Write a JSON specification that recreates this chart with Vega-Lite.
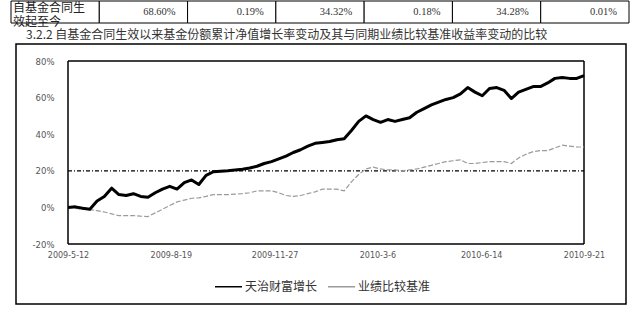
{
  "$schema": "https://vega.github.io/schema/vega-lite/v6.json",
  "padding": {"left": 10, "top": 0, "right": 0, "bottom": 0},
  "background": "white",
  "spacing": 0,
  "datasets": {
    "table": [
      {"col": "c0", "label": "自基金合同生\n效起至今"},
      {"col": "c1", "label": "68.60%"},
      {"col": "c2", "label": "0.19%"},
      {"col": "c3", "label": "34.32%"},
      {"col": "c4", "label": "0.18%"},
      {"col": "c5", "label": "34.28%"},
      {"col": "c6", "label": "0.01%"}
    ],
    "series": [
      {"date": "2009-05-12", "天治财富增长": 0, "业绩比较基准": 0},
      {"date": "2009-05-19", "天治财富增长": 0.3, "业绩比较基准": -0.5},
      {"date": "2009-05-26", "天治财富增长": -0.5, "业绩比较基准": -1},
      {"date": "2009-06-02", "天治财富增长": -1, "业绩比较基准": -1.2},
      {"date": "2009-06-09", "天治财富增长": 3.5, "业绩比较基准": -1.8},
      {"date": "2009-06-16", "天治财富增长": 6, "业绩比较基准": -2.5},
      {"date": "2009-06-23", "天治财富增长": 10.5, "业绩比较基准": -3.5},
      {"date": "2009-06-30", "天治财富增长": 7, "业绩比较基准": -4.5},
      {"date": "2009-07-07", "天治财富增长": 6.5, "业绩比较基准": -4.5},
      {"date": "2009-07-14", "天治财富增长": 7.5, "业绩比较基准": -4.5},
      {"date": "2009-07-21", "天治财富增长": 6, "业绩比较基准": -4.8},
      {"date": "2009-07-28", "天治财富增长": 5.5, "业绩比较基准": -5},
      {"date": "2009-08-04", "天治财富增长": 8, "业绩比较基准": -3},
      {"date": "2009-08-11", "天治财富增长": 10, "业绩比较基准": -1},
      {"date": "2009-08-18", "天治财富增长": 11.5, "业绩比较基准": 1},
      {"date": "2009-08-25", "天治财富增长": 10, "业绩比较基准": 3},
      {"date": "2009-09-01", "天治财富增长": 13.5, "业绩比较基准": 4},
      {"date": "2009-09-08", "天治财富增长": 15, "业绩比较基准": 5},
      {"date": "2009-09-15", "天治财富增长": 12.5, "业绩比较基准": 5.2},
      {"date": "2009-09-22", "天治财富增长": 17.5, "业绩比较基准": 6},
      {"date": "2009-09-29", "天治财富增长": 19.5, "业绩比较基准": 7},
      {"date": "2009-10-06", "天治财富增长": 19.8, "业绩比较基准": 7},
      {"date": "2009-10-13", "天治财富增长": 20, "业绩比较基准": 7},
      {"date": "2009-10-20", "天治财富增长": 20.5, "业绩比较基准": 7.2},
      {"date": "2009-10-27", "天治财富增长": 20.8, "业绩比较基准": 7.5},
      {"date": "2009-11-03", "天治财富增长": 21.5, "业绩比较基准": 8},
      {"date": "2009-11-10", "天治财富增长": 22.5, "业绩比较基准": 9},
      {"date": "2009-11-17", "天治财富增长": 24, "业绩比较基准": 9},
      {"date": "2009-11-24", "天治财富增长": 25, "业绩比较基准": 9},
      {"date": "2009-12-01", "天治财富增长": 26.5, "业绩比较基准": 8},
      {"date": "2009-12-08", "天治财富增长": 28, "业绩比较基准": 6.5},
      {"date": "2009-12-15", "天治财富增长": 30, "业绩比较基准": 6},
      {"date": "2009-12-22", "天治财富增长": 31.5, "业绩比较基准": 6.5},
      {"date": "2009-12-29", "天治财富增长": 33.5, "业绩比较基准": 7.5},
      {"date": "2010-01-05", "天治财富增长": 35, "业绩比较基准": 8.5},
      {"date": "2010-01-12", "天治财富增长": 35.5, "业绩比较基准": 10},
      {"date": "2010-01-19", "天治财富增长": 36, "业绩比较基准": 10},
      {"date": "2010-01-26", "天治财富增长": 37, "业绩比较基准": 10},
      {"date": "2010-02-02", "天治财富增长": 37.5, "业绩比较基准": 9},
      {"date": "2010-02-09", "天治财富增长": 42, "业绩比较基准": 14},
      {"date": "2010-02-16", "天治财富增长": 47, "业绩比较基准": 18},
      {"date": "2010-02-23", "天治财富增长": 50, "业绩比较基准": 21},
      {"date": "2010-03-02", "天治财富增长": 48, "业绩比较基准": 22},
      {"date": "2010-03-09", "天治财富增长": 46.5, "业绩比较基准": 21},
      {"date": "2010-03-16", "天治财富增长": 48, "业绩比较基准": 20.5},
      {"date": "2010-03-23", "天治财富增长": 47, "业绩比较基准": 20.5},
      {"date": "2010-03-30", "天治财富增长": 48, "业绩比较基准": 20},
      {"date": "2010-04-06", "天治财富增长": 49, "业绩比较基准": 20.5},
      {"date": "2010-04-13", "天治财富增长": 52, "业绩比较基准": 21},
      {"date": "2010-04-20", "天治财富增长": 54, "业绩比较基准": 22},
      {"date": "2010-04-27", "天治财富增长": 56, "业绩比较基准": 23},
      {"date": "2010-05-04", "天治财富增长": 57.5, "业绩比较基准": 24},
      {"date": "2010-05-11", "天治财富增长": 59, "业绩比较基准": 25},
      {"date": "2010-05-18", "天治财富增长": 60, "业绩比较基准": 25.5},
      {"date": "2010-05-25", "天治财富增长": 62, "业绩比较基准": 26},
      {"date": "2010-06-01", "天治财富增长": 65.5, "业绩比较基准": 24},
      {"date": "2010-06-08", "天治财富增长": 63, "业绩比较基准": 24},
      {"date": "2010-06-15", "天治财富增长": 61, "业绩比较基准": 24.5},
      {"date": "2010-06-22", "天治财富增长": 65, "业绩比较基准": 25},
      {"date": "2010-06-29", "天治财富增长": 65.5, "业绩比较基准": 25},
      {"date": "2010-07-06", "天治财富增长": 64, "业绩比较基准": 25},
      {"date": "2010-07-13", "天治财富增长": 59.5, "业绩比较基准": 24},
      {"date": "2010-07-20", "天治财富增长": 63, "业绩比较基准": 27},
      {"date": "2010-07-27", "天治财富增长": 64.5, "业绩比较基准": 29},
      {"date": "2010-08-03", "天治财富增长": 66, "业绩比较基准": 30.5},
      {"date": "2010-08-10", "天治财富增长": 66, "业绩比较基准": 31},
      {"date": "2010-08-17", "天治财富增长": 68, "业绩比较基准": 31},
      {"date": "2010-08-24", "天治财富增长": 70.5, "业绩比较基准": 32.5},
      {"date": "2010-08-31", "天治财富增长": 71, "业绩比较基准": 34},
      {"date": "2010-09-07", "天治财富增长": 70.5, "业绩比较基准": 33.5},
      {"date": "2010-09-14", "天治财富增长": 70.5, "业绩比较基准": 33},
      {"date": "2010-09-21", "天治财富增长": 72, "业绩比较基准": 33}
    ]
  },
  "vconcat": [
    {
      "width": 610,
      "height": 22,
      "data": {"name": "table"},
      "view": {"stroke": null},
      "encoding": {
        "x": {"field": "col", "type": "nominal", "sort": null, "axis": null,
              "scale": {"range": [-5, 613], "paddingInner": 0, "paddingOuter": 0}}
      },
      "layer": [
        {"mark": {"type": "rect", "fill": "white", "stroke": "black", "strokeWidth": 1}},
        {
          "transform": [{"filter": "datum.col == 'c0'"}],
          "mark": {"type": "text", "align": "left", "baseline": "middle", "dx": 2, "dy": -4, "lineBreak": "\n", "lineHeight": 13.5, "font": "Noto Sans CJK SC", "fontSize": 12, "color": "#222"},
          "encoding": {"x": {"field": "col", "type": "nominal", "bandPosition": 0}, "text": {"field": "label"}}
        },
        {
          "transform": [{"filter": "datum.col != 'c0'"}],
          "mark": {"type": "text", "align": "right", "baseline": "middle", "dx": -12, "font": "Liberation Serif", "fontSize": 10.5, "color": "#333"},
          "encoding": {"x": {"field": "col", "type": "nominal", "bandPosition": 1}, "text": {"field": "label"}}
        }
      ]
    },
    {
      "width": 610,
      "height": 260,
      "title": {"text": "3.2.2 自基金合同生效以来基金份额累计净值增长率变动及其与同期业绩比较基准收益率变动的比较", "anchor": "start", "dx": 10, "offset": 2, "fontSize": 12, "font": "Noto Sans CJK SC", "fontWeight": "normal", "color": "#333"},
      "view": {"stroke": "black", "strokeWidth": 1.5},
      "layer": [
        {
          "data": {"values": [{}]},
          "mark": {"type": "rule", "color": "black", "strokeWidth": 1.5},
          "encoding": {
            "x": {"datum": {"year": 2009, "month": 5, "date": 12, "utc": true}, "type": "temporal"},
            "x2": {"datum": {"year": 2010, "month": 9, "date": 21, "utc": true}},
            "y": {"datum": 80, "type": "quantitative"}
          }
        },
        {
          "data": {"values": [{}]},
          "mark": {"type": "rule", "color": "black", "strokeWidth": 1.5},
          "encoding": {
            "x": {"datum": {"year": 2009, "month": 5, "date": 12, "utc": true}, "type": "temporal"},
            "x2": {"datum": {"year": 2010, "month": 9, "date": 21, "utc": true}},
            "y": {"datum": -20, "type": "quantitative"}
          }
        },
        {
          "data": {"values": [{}]},
          "mark": {"type": "rule", "color": "black", "strokeWidth": 1.5},
          "encoding": {
            "x": {"datum": {"year": 2009, "month": 5, "date": 12, "utc": true}, "type": "temporal"},
            "y": {"datum": -20, "type": "quantitative"},
            "y2": {"datum": 80}
          }
        },
        {
          "data": {"values": [{}]},
          "mark": {"type": "rule", "color": "black", "strokeWidth": 1.5},
          "encoding": {
            "x": {"datum": {"year": 2010, "month": 9, "date": 21, "utc": true}, "type": "temporal"},
            "y": {"datum": -20, "type": "quantitative"},
            "y2": {"datum": 80}
          }
        },
        {
          "data": {"values": [{}]},
          "mark": {"type": "rule", "color": "black", "strokeWidth": 1.2, "strokeDash": [4, 2, 1, 2]},
          "encoding": {
            "x": {"datum": {"year": 2009, "month": 5, "date": 12, "utc": true}, "type": "temporal"},
            "x2": {"datum": {"year": 2010, "month": 9, "date": 21, "utc": true}},
            "y": {"datum": 20, "type": "quantitative"}
          }
        },
        {
          "data": {"name": "series"},
          "transform": [{"fold": ["天治财富增长", "业绩比较基准"], "as": ["series", "value"]}],
          "layer": [
            {
              "transform": [{"filter": "datum.series == '业绩比较基准'"}],
              "mark": {"type": "line", "strokeWidth": 1.2, "strokeDash": [5, 2]},
              "encoding": {}
            },
            {
              "transform": [{"filter": "datum.series == '天治财富增长'"}],
              "mark": {"type": "line", "strokeWidth": 3, "strokeJoin": "round"},
              "encoding": {}
            }
          ],
          "encoding": {
            "x": {
              "field": "date", "type": "temporal",
              "scale": {"type": "utc", "domain": [{"year": 2009, "month": 5, "date": 12, "utc": true}, {"year": 2010, "month": 9, "date": 21, "utc": true}], "range": [52, 568], "nice": false},
              "axis": {
                "values": [
                  {"year": 2009, "month": 5, "date": 12, "utc": true},
                  {"year": 2009, "month": 8, "date": 19, "utc": true},
                  {"year": 2009, "month": 11, "date": 27, "utc": true},
                  {"year": 2010, "month": 3, "date": 6, "utc": true},
                  {"year": 2010, "month": 6, "date": 14, "utc": true},
                  {"year": 2010, "month": 9, "date": 21, "utc": true}
                ],
                "format": "%Y-%-m-%-d",
                "title": null, "ticks": false, "domain": false, "grid": false,
                "offset": -60, "labelPadding": 7, "labelFontSize": 8, "labelColor": "#555",
                "labelFont": "DejaVu Sans", "labelOverlap": false, "labelFlush": false
              }
            },
            "y": {
              "field": "value", "type": "quantitative",
              "scale": {"domain": [-20, 80], "range": [200, 17], "nice": false, "zero": false},
              "axis": {
                "values": [-20, 0, 20, 40, 60, 80],
                "labelExpr": "datum.value + '%'",
                "title": null, "ticks": false, "domain": false, "grid": false,
                "offset": -52, "labelPadding": 14, "labelFontSize": 8.5, "labelColor": "#555",
                "labelFont": "DejaVu Sans"
              }
            },
            "color": {
              "field": "series", "type": "nominal",
              "scale": {"domain": ["天治财富增长", "业绩比较基准"], "range": ["#000000", "#9a9a9a"]},
              "legend": {
                "orient": "none", "legendX": 198, "legendY": 271, "direction": "horizontal",
                "title": null, "symbolType": "stroke", "symbolSize": 730, "symbolStrokeWidth": 1.5,
                "labelFont": "Noto Sans CJK SC", "labelFontSize": 12, "labelColor": "#333",
                "labelOffset": 2, "columnPadding": 6, "padding": 0
              }
            }
          }
        }
      ]
    }
  ]
}
